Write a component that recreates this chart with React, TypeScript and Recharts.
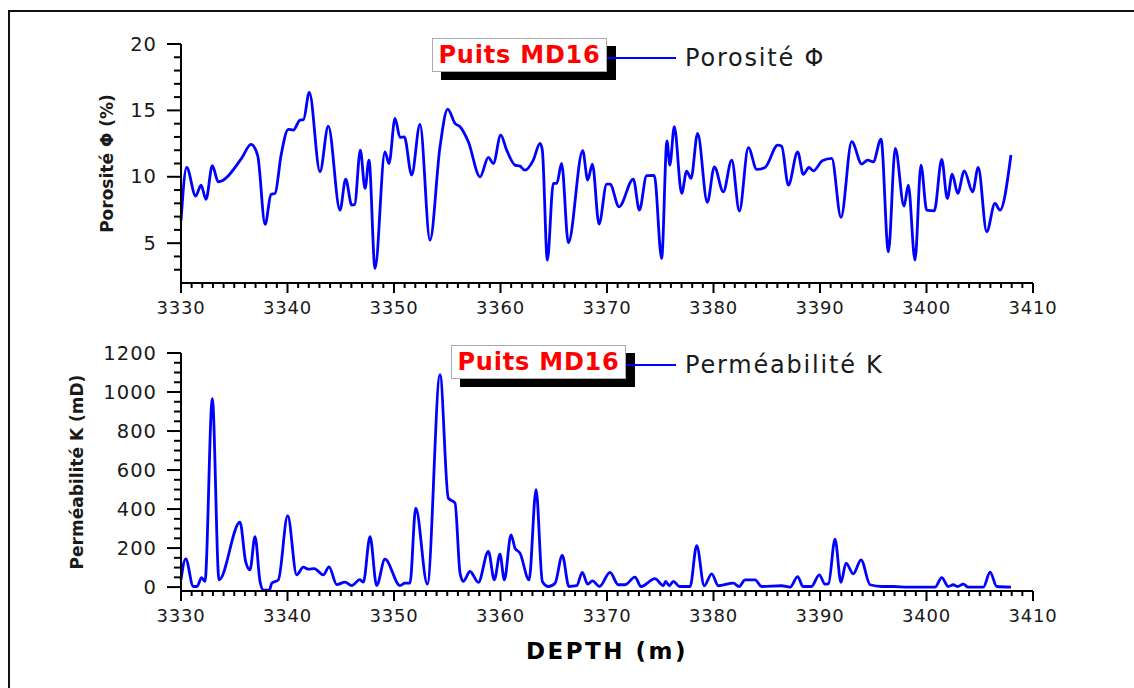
import React from 'react';
import { LineChart, Line, XAxis, YAxis, Label } from 'recharts';

// depth (m) / porosity (%)
const porosityDepth = [
  3330.0, 3330.53, 3331.38, 3331.88, 3332.35, 3332.94, 3333.5, 3335.7, 3336.57, 3337.2,
  3337.9, 3338.45, 3338.83, 3339.4, 3340.08, 3340.55, 3341.17, 3341.5, 3342.05, 3343.05,
  3343.83, 3344.93, 3345.46, 3346.03, 3346.3, 3346.84, 3347.28, 3347.65, 3348.22, 3349.15,
  3349.53, 3350.1, 3350.56, 3350.97, 3351.66, 3352.44, 3353.38, 3354.32, 3355.04, 3355.75,
  3356.2, 3356.98, 3358.08, 3358.86, 3359.33, 3360.02, 3360.58, 3361.36, 3361.83, 3362.3,
  3363.08, 3363.71, 3363.93, 3364.4, 3364.96, 3365.28, 3365.74, 3366.37, 3367.72, 3368.19,
  3368.63, 3369.25, 3369.97, 3370.28, 3371.13, 3372.47, 3373.04, 3373.72, 3374.44, 3375.13,
  3375.63, 3375.9, 3376.32, 3377.01, 3377.48, 3377.89, 3378.51, 3379.42, 3380.08, 3380.92,
  3381.71, 3382.43, 3383.27, 3384.06, 3384.84, 3386.03, 3386.4, 3387.03, 3387.9, 3388.43,
  3388.97, 3389.37, 3390.22, 3391.1, 3391.97, 3392.98, 3393.92, 3394.48, 3395.0, 3395.73,
  3396.42, 3397.07, 3397.89, 3398.29, 3398.92, 3399.48, 3400.02, 3400.73, 3401.43, 3401.95,
  3402.42, 3402.93, 3403.55, 3404.33, 3404.86, 3405.65, 3406.43, 3406.9, 3407.93,
];
const porosityValues = [
  6.7, 10.7, 8.55, 9.37, 8.3, 10.83, 9.62, 11.4, 12.44, 11.6,
  6.41, 8.67, 8.75, 11.64, 13.57, 13.52, 14.27, 14.3, 16.36, 10.38,
  13.82, 7.49, 9.83, 7.87, 7.9, 12.01, 9.12, 11.26, 3.1, 11.88,
  11.0, 14.4, 12.97, 13.0, 10.13, 13.95, 5.23, 12.26, 15.1, 14.0,
  13.77, 12.64, 10.0, 11.46, 11.0, 13.14, 12.01, 10.88, 10.8, 10.5,
  11.26, 12.52, 12.0, 3.72, 9.5, 9.5, 11.0, 5.03, 11.96, 9.75,
  10.96, 6.44, 9.45, 9.45, 7.74, 9.83, 7.49, 10.08, 10.1, 3.85,
  12.71, 10.88, 13.77, 8.75, 10.43, 9.88, 13.27, 8.07, 10.75, 8.87,
  11.26, 7.42, 12.19, 10.56, 10.7, 12.39, 12.3, 9.37, 11.88, 10.18,
  10.7, 10.45, 11.21, 11.39, 6.94, 12.64, 10.96, 11.26, 11.13, 12.84,
  4.35, 12.14, 7.79, 9.37, 3.72, 10.88, 7.49, 7.44, 11.31, 8.37,
  10.2, 8.75, 10.45, 8.87, 10.7, 5.86, 7.99, 7.49, 11.64,
];

// depth (m) / permeability (mD)
const permDepth = [
  3330.0, 3330.44, 3331.16, 3331.5, 3331.94, 3332.25, 3332.94, 3333.57, 3335.54, 3336.07,
  3336.48, 3336.95, 3337.42, 3337.75, 3338.3, 3338.52, 3339.14, 3340.02, 3340.86, 3341.49,
  3341.96, 3342.52, 3343.36, 3343.9, 3344.62, 3345.4, 3346.03, 3346.8, 3347.12, 3347.75,
  3348.37, 3349.15, 3350.56, 3351.03, 3351.5, 3352.04, 3353.13, 3354.32, 3355.1, 3355.73,
  3356.2, 3356.5, 3357.14, 3357.92, 3358.86, 3359.42, 3359.95, 3360.36, 3360.99, 3361.36,
  3361.83, 3362.68, 3363.34, 3363.93, 3364.5, 3365.12, 3365.8, 3366.43, 3367.15, 3367.68,
  3368.19, 3368.63, 3369.3, 3370.28, 3371.06, 3371.7, 3372.63, 3373.2, 3374.5, 3375.29,
  3375.5, 3375.85, 3376.23, 3376.8, 3377.8, 3378.42, 3379.13, 3379.83, 3380.45, 3381.86,
  3382.4, 3382.96, 3383.9, 3384.53, 3386.4, 3387.2, 3387.9, 3388.4, 3389.2, 3389.93,
  3390.47, 3390.8, 3391.41, 3391.97, 3392.44, 3393.13, 3393.85, 3394.7, 3395.8, 3396.9,
  3398.3, 3400.8, 3401.43, 3402.05, 3402.52, 3402.9, 3403.46, 3403.9, 3405.34, 3405.97,
  3406.6, 3407.93,
];
const permValues = [
  37, 145, 3, 3, 49, 29, 966, 37, 333, 131,
  89, 259, 29, -15, -15, 20, 37, 366, 63, 102,
  92, 95, 63, 104, 13, 25, 8, 38, 25, 259,
  8, 143, 8, 20, 20, 405, 15, 1089, 456, 431,
  72, 29, 80, 24, 183, 37, 169, 37, 268, 200,
  174, 37, 499, 29, 3, 20, 162, 3, 7, 75,
  15, 32, 3, 75, 12, 12, 51, 3, 43, 7,
  29, 7, 29, 3, 3, 213, 7, 68, 7, 20,
  3, 37, 37, 3, 7, 0, 54, 3, 3, 63,
  15, 18, 246, 24, 123, 68, 140, 12, 3, 3,
  0, 0, 49, 3, 12, 3, 15, 0, 0, 77,
  3, 0,
];

const depthLabels = [3330, 3340, 3350, 3360, 3370, 3380, 3390, 3400, 3410];
const porosityLabels = [5, 10, 15, 20];
const permLabels = [0, 200, 400, 600, 800, 1000, 1200];

// minor ticks every 1 m, every 1 %, every 50 mD
const depthTicks = Array.from({ length: 81 }, (_, i) => 3330 + i);
const porosityTicks = Array.from({ length: 18 }, (_, i) => 3 + i);
const permTicks = Array.from({ length: 25 }, (_, i) => i * 50);

const porosityData = porosityDepth.map((d, i) => ({ depth: d, phi: porosityValues[i] }));
const permData = permDepth.map((d, i) => ({ depth: d, k: permValues[i] }));

const FONT = '"DejaVu Sans", Arial, sans-serif';
const BLUE = '#0000ff';
const TXT = '#1a1a1a';

const DepthTick = (props: any) => {
  const { x, y, payload } = props;
  const major = depthLabels.includes(payload.value);
  return (
    <g>
      <line x1={x} x2={x} y1={y} y2={y + (major ? 10 : 5)} stroke="#000" strokeWidth={2} />
      {major && (
        <text x={x} y={y + 24} textAnchor="middle" dominantBaseline="central"
          fontSize={18} letterSpacing={0.8} fontFamily={FONT} fill={TXT}>
          {payload.value}
        </text>
      )}
    </g>
  );
};

const makeYTick = (labels: number[]) => (props: any) => {
  const { x, y, payload } = props;
  const major = labels.includes(payload.value);
  return (
    <g>
      <line x1={x - (major ? 14 : 7)} x2={x} y1={y} y2={y} stroke="#000" strokeWidth={2} />
      {major && (
        <text x={x - 24} y={y} textAnchor="end" dominantBaseline="central"
          fontSize={19.5} letterSpacing={1} fontFamily={FONT} fill={TXT}>
          {payload.value}
        </text>
      )}
    </g>
  );
};

const yTitle = (text: string, x: number) => (props: any) => {
  const vb = props.viewBox;
  const cy = vb.y + vb.height / 2;
  return (
    <text x={x} y={cy} transform={`rotate(-90, ${x}, ${cy})`} textAnchor="middle"
      dominantBaseline="central" fontSize={17} fontWeight="bold" fontFamily={FONT} fill={TXT}>
      {text}
    </text>
  );
};

const depthTitle = (props: any) => {
  const vb = props.viewBox;
  return (
    <text x={vb.x + vb.width / 2} y={vb.y + 60} textAnchor="middle" dominantBaseline="central"
      fontSize={23} fontWeight="bold" letterSpacing={2.5} fontFamily={FONT} fill="#000">
      DEPTH (m)
    </text>
  );
};

const WellTag = ({ left, top, lineEnd, text }: { left: number; top: number; lineEnd: number; text: string }) => (
  <>
    <div style={{ position: 'absolute', left: left + 9, top: top + 8, width: 175, height: 34, background: '#000' }} />
    <div style={{
      position: 'absolute', left, top, width: 175, height: 34, background: '#fff',
      border: '1px solid #aaa', boxSizing: 'border-box', display: 'flex', alignItems: 'center',
      justifyContent: 'center', color: '#ff0000', fontWeight: 'bold', fontSize: 24,
      letterSpacing: 0.8, fontFamily: FONT, whiteSpace: 'nowrap',
    }}>
      Puits MD16
    </div>
    <div style={{ position: 'absolute', left: left + 175, top: top + 19, width: lineEnd - left - 175, height: 2, background: BLUE }} />
    <div style={{
      position: 'absolute', left: 685, top: top + 20 - 15, height: 30, lineHeight: '30px',
      fontSize: 24, letterSpacing: 1.8, fontFamily: FONT, color: TXT, whiteSpace: 'nowrap',
    }}>
      {text}
    </div>
  </>
);

const App: React.FC = () => {
  return (
    <div style={{ position: 'absolute', left: 0, top: 0, width: 1134, height: 688, overflow: 'hidden', background: '#fff' }}>
      {/* page frame */}
      <div style={{ position: 'absolute', left: 8, top: 10, width: 1200, height: 800, borderLeft: '2px solid #111', borderTop: '2px solid #111' }} />

      <div style={{ position: 'absolute', left: 0, top: 0 }}>
        <LineChart width={1134} height={330} data={porosityData} margin={{ top: 44, right: 101, bottom: 7, left: 101 }}>
          <XAxis dataKey="depth" type="number" domain={[3330, 3410]} ticks={depthTicks} interval={0}
            tickSize={0} tickMargin={0} tick={DepthTick} height={40}
            axisLine={{ stroke: '#000', strokeWidth: 2 }} tickLine={false} />
          <YAxis type="number" domain={[2, 20]} ticks={porosityTicks} interval={0} width={80}
            tickSize={0} tickMargin={0} tick={makeYTick(porosityLabels)}
            axisLine={{ stroke: '#000', strokeWidth: 2 }} tickLine={false} allowDataOverflow>
            <Label content={yTitle('Porosité Φ (%)', 107)} />
          </YAxis>
          <Line type="monotone" dataKey="phi" stroke={BLUE} strokeWidth={2.8} dot={false} isAnimationActive={false} />
        </LineChart>
      </div>

      <div style={{ position: 'absolute', left: 0, top: 320 }}>
        <LineChart width={1134} height={368} data={permData} margin={{ top: 33, right: 101, bottom: 57, left: 101 }}>
          <XAxis dataKey="depth" type="number" domain={[3330, 3410]} ticks={depthTicks} interval={0}
            tickSize={0} tickMargin={0} tick={DepthTick} height={40}
            axisLine={{ stroke: '#000', strokeWidth: 2 }} tickLine={false}>
            <Label content={depthTitle} />
          </XAxis>
          <YAxis type="number" domain={[-20, 1200]} ticks={permTicks} interval={0} width={80}
            tickSize={0} tickMargin={0} tick={makeYTick(permLabels)}
            axisLine={{ stroke: '#000', strokeWidth: 2 }} tickLine={false} allowDataOverflow>
            <Label content={yTitle('Perméabilité K (mD)', 77)} />
          </YAxis>
          <Line type="monotone" dataKey="k" stroke={BLUE} strokeWidth={2.8} dot={false} isAnimationActive={false} />
        </LineChart>
      </div>

      <WellTag left={432} top={38} lineEnd={676} text="Porosité Φ" />
      <WellTag left={451} top={345} lineEnd={676} text="Perméabilité K" />
    </div>
  );
};

export default App;
